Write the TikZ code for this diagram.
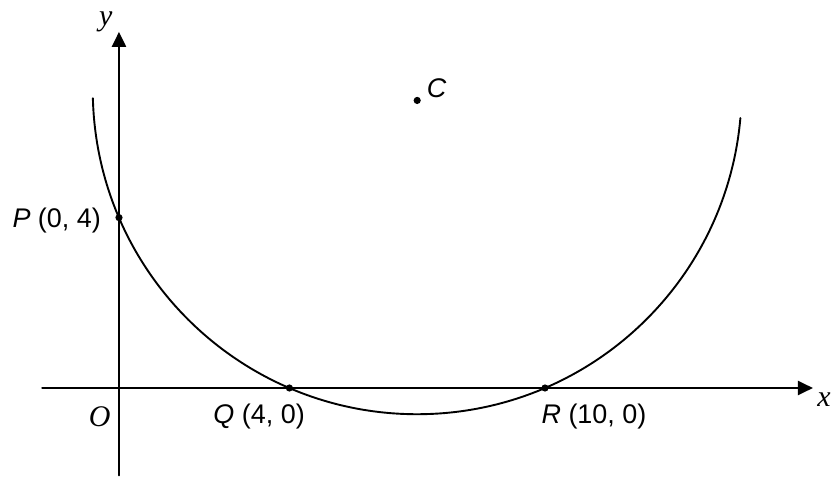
\documentclass[tikz,border=0pt]{standalone}
\usepackage{fontspec}
\setmainfont{Liberation Serif}
\setsansfont{Liberation Sans}
\usetikzlibrary{arrows.meta,calc}

\begin{document}
\begin{tikzpicture}[x=1.5cm,y=1.5cm,>={Triangle[length=15pt,width=14pt]},
    line cap=round,line join=round]
    \useasboundingbox (-2.793,-2.089) rectangle (16.714,9.108);
    \tikzset{ptlabel/.style={font=\sffamily\fontsize{27}{32}\selectfont,
        inner sep=0pt},
      axlabel/.style={font=\rmfamily\itshape\fontsize{30}{34}\selectfont,
        inner sep=0pt}}

    % Axes.
    \coordinate (O) at (0,0);
    \coordinate (xstart) at (-1.8,0);
    \coordinate (xend) at (16.29,0);
    \coordinate (ystart) at (0,-2.05);
    \coordinate (yend) at (0,8.36);
    \draw[->,line width=2.2pt] (xstart) -- (xend);
    \draw[->,line width=2.2pt] (ystart) -- (yend);
    \node[axlabel] (xlab) at (16.55,-0.28) {x};
    \node[axlabel] (ylab) at (-0.31,8.59) {y};
    \node[axlabel] (olab) at (-0.45,-0.68) {O};

    % Circle through P, Q and R.
    \coordinate (Cc) at (7,7);
    \draw[line width=1.9pt] ($(Cc)+(181.5:7.6158)$) arc (181.5:355:7.6158);

    % Points.
    \coordinate (P) at (0,4);
    \coordinate (Q) at (4,0);
    \coordinate (R) at (10,0);
    \coordinate (C) at (7,6.75);
    \foreach \pt in {P,Q,R,C}
      \fill (\pt) circle (3.6pt);
    \node[ptlabel,anchor=east] (plab) at (-0.42,3.93) {\textit{P} (0, 4)};
    \node[ptlabel] (qlab) at (3.29,-0.68) {\textit{Q} (4, 0)};
    \node[ptlabel] (rlab) at (11.15,-0.66) {\textit{R} (10, 0)};
    \node[ptlabel] (clab) at (7.46,7.04) {\textit{C}};
\end{tikzpicture}
\end{document}
